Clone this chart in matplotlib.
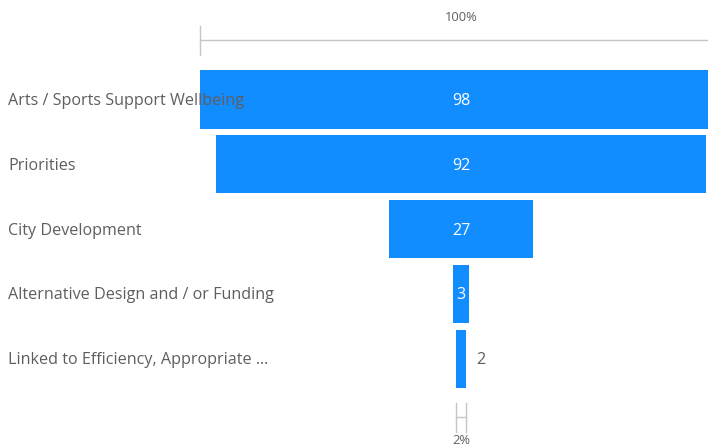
import matplotlib
matplotlib.use("Agg")
import matplotlib.pyplot as plt
import numpy as np

categories = ["Arts / Sports Support Wellbeing", "Priorities", "City Development",
              "Alternative Design and / or Funding", "Linked to Efficiency, Appropriate ..."]
values = [98, 92, 27, 3, 2]

bar_color = "#118DFF"
text_color = "#605E5C"
line_color = "#C8C6C4"
plt.rcParams['font.family'] = ['Open Sans', 'DejaVu Sans']

fig = plt.figure(figsize=(7.08, 4.48), dpi=100)
ax = fig.add_axes([0, 0, 1, 1])
ax.set_xlim(-86.5, 46.3)
ax.set_ylim(5.37, -1.533)
ax.axis('off')

y = np.arange(len(values))
vals = np.array(values, dtype=float)
# funnel: bars centred on zero
ax.barh(y, vals, left=-vals / 2, height=0.894, color=bar_color)

for i, (c, v) in enumerate(zip(categories, values)):
    ax.text(8 / 708, i + 0.02, c, transform=ax.get_yaxis_transform(), ha='left', va='center',
            fontsize=11.6, color=text_color, zorder=5)
    if v >= 3:
        ax.text(0, i + 0.02, str(v), ha='center', va='center', fontsize=11.6, color='white')
    else:
        ax.text(v / 2 + 1.8, i + 0.02, str(v), ha='left', va='center', fontsize=11.6, color=text_color)

# top reference: first stage = 100%
top = values[0]
ax.plot([-top / 2, top / 2], [-0.917, -0.917], color=line_color, lw=1, clip_on=True)
ax.plot([-top / 2, -top / 2], [-1.133, -0.686], color=line_color, lw=1)
ax.text(0, -1.256, "100%", ha='center', va='center', fontsize=9.3, color=text_color)

# bottom reference: last stage as % of first
last = values[-1]
ax.plot([-last / 2, -last / 2], [4.675, 5.123], color=line_color, lw=1)
ax.plot([last / 2, last / 2], [4.675, 5.123], color=line_color, lw=1)
ax.plot([-last / 2, last / 2], [4.89, 4.89], color=line_color, lw=1)
ax.text(0, 5.26, f"{round(last / top * 100)}%", ha='center', va='center', fontsize=9.3, color=text_color)

plt.savefig("out.png", dpi=100)
